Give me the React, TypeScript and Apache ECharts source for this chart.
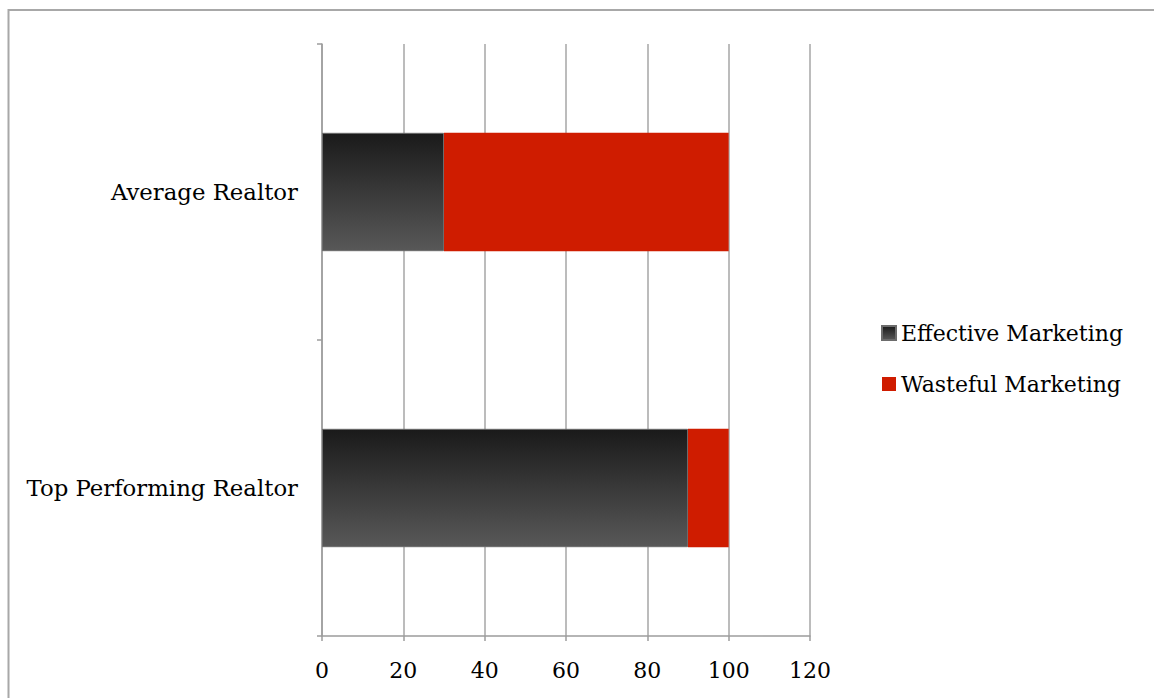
import React, { useEffect, useRef } from "react";
import * as echarts from "echarts";

const categories = ["Top Performing Realtor", "Average Realtor"];
const effective = [90, 30];
const wasteful = [10, 70];
const seriesNames = ["Effective Marketing", "Wasteful Marketing"];

const FONT = "'DejaVu Serif', 'Liberation Serif', serif";

export default function App() {
  const ref = useRef<HTMLDivElement>(null);
  useEffect(() => {
    document.body.style.margin = "0";
    const chart = echarts.init(ref.current!, null, { renderer: "svg" });
    chart.setOption({
      animation: false,
      backgroundColor: "#ffffff",
      graphic: [
        {
          type: "rect",
          shape: { x: 8.5, y: 10, width: 2000, height: 2000 },
          style: { fill: "none", stroke: "#a8a8a8", lineWidth: 2 },
          silent: true,
          z: -1,
        },
      ],
      grid: { left: 322, top: 44, right: 344, bottom: 62, containLabel: false },
      legend: {
        orient: "vertical",
        left: 876,
        top: 314,
        padding: 5,
        itemWidth: 14,
        itemHeight: 14,
        itemGap: 23,
        icon: "rect",
        data: seriesNames,
        textStyle: { fontFamily: FONT, fontSize: 22, color: "#000", lineHeight: 28 },
      },
      xAxis: {
        type: "value",
        min: 0,
        max: 120,
        interval: 20,
        axisLine: { show: true, lineStyle: { color: "#9c9c9c", width: 1.5 } },
        axisTick: { show: true, length: 5, lineStyle: { color: "#9c9c9c", width: 1.5 } },
        splitLine: { show: true, lineStyle: { color: "#a6a6a6", width: 1.5 } },
        axisLabel: { fontFamily: FONT, fontSize: 22, color: "#000", margin: 23 },
      },
      yAxis: {
        type: "category",
        data: categories,
        axisLine: { show: true, lineStyle: { color: "#9c9c9c", width: 1.5 } },
        axisTick: { show: true, length: 5, lineStyle: { color: "#9c9c9c", width: 1.5 } },
        axisLabel: { fontFamily: FONT, fontSize: 22.8, color: "#000", margin: 24, padding: [9, 0, 0, 0] },
      },
      series: [
        {
          name: seriesNames[0],
          type: "bar",
          stack: "total",
          barWidth: "40%",
          data: effective,
          itemStyle: {
            color: new echarts.graphic.LinearGradient(0, 0, 0, 1, [
              { offset: 0, color: "#1a1a1a" },
              { offset: 1, color: "#585858" },
            ]),
            borderColor: "#6c6c6c",
            borderWidth: 1,
          },
        },
        {
          name: seriesNames[1],
          type: "bar",
          stack: "total",
          barWidth: "40%",
          data: wasteful,
          itemStyle: { color: "#cf1c00" },
        },
      ],
    });
    return () => chart.dispose();
  }, []);
  return <div ref={ref} style={{ width: 1154, height: 698 }} />;
}
